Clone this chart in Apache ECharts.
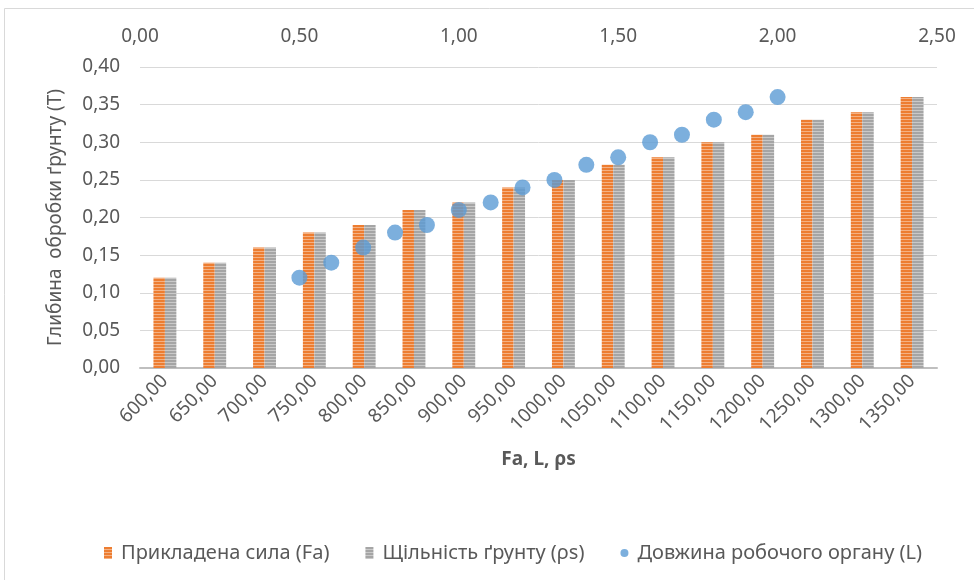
<!DOCTYPE html>
<html>
<head>
<meta charset="utf-8">
<script src="https://cdn.jsdelivr.net/npm/echarts@6/dist/echarts.min.js"></script>
<style>
  html, body { margin: 0; padding: 0; background: #fff; }
  #chart { width: 974px; height: 580px; }
</style>
</head>
<body>
<div id="chart"></div>
<script>
// categories on the bottom axis
var categories = ['600,00','650,00','700,00','750,00','800,00','850,00','900,00','950,00',
                  '1000,00','1050,00','1100,00','1150,00','1200,00','1250,00','1300,00','1350,00'];
// bar series values
var forceValues   = [0.12,0.14,0.16,0.18,0.19,0.21,0.22,0.24,0.25,0.27,0.28,0.30,0.31,0.33,0.34,0.36];
var densityValues = [0.12,0.14,0.16,0.18,0.19,0.21,0.22,0.24,0.25,0.27,0.28,0.30,0.31,0.33,0.34,0.36];
// scatter: length L (top axis) vs depth
var lengthX = [0.5,0.6,0.7,0.8,0.9,1.0,1.1,1.2,1.3,1.4,1.5,1.6,1.7,1.8,1.9,2.0];
var lengthY = [0.12,0.14,0.16,0.18,0.19,0.21,0.22,0.24,0.25,0.27,0.28,0.30,0.31,0.33,0.34,0.36];

var seriesNames = ['Прикладена сила (Fa)', 'Щільність ґрунту (ρs)', 'Довжина робочого органу (L)'];

function comma(v) { return v.toFixed(2).replace('.', ','); }

// striped fill like the Excel pattern
function stripes(base, light) {
    var c = document.createElement('canvas');
    c.width = 4; c.height = 3;
    var ctx = c.getContext('2d');
    ctx.fillStyle = base; ctx.fillRect(0, 0, 4, 3);
    ctx.fillStyle = light; ctx.fillRect(0, 2, 4, 1);
    return { image: c, repeat: 'repeat' };
}

var font = "'Noto Sans', 'Open Sans', sans-serif";
var fs = 19;
var txt = '#595959';
var chart = echarts.init(document.getElementById('chart'));

var option = {
    animation: false,
    textStyle: { fontFamily: font },
    graphic: [{
        type: 'rect', shape: { x: 4.5, y: 8.5, width: 1000, height: 1000 },
        style: { fill: 'none', stroke: '#d9d9d9', lineWidth: 1 }, silent: true
    }],
    grid: { left: 140, right: 37, top: 67, bottom: 212 },
    legend: {
        top: 538, left: 99,
        itemWidth: 8, itemHeight: 12, itemGap: 36,
        textStyle: { color: txt, fontSize: 20, fontFamily: font, padding: [0, 0, 0, 4] },
        data: [
            { name: seriesNames[0], icon: 'rect' },
            { name: seriesNames[1], icon: 'rect' },
            { name: seriesNames[2], icon: 'circle' }
        ]
    },
    xAxis: [{
        type: 'category',
        data: categories,
        position: 'bottom',
        name: 'Fa, L, ρs',
        nameLocation: 'middle',
        nameGap: 82,
        nameTextStyle: { color: txt, fontSize: fs, fontWeight: 'bold', fontFamily: font },
        axisLine: { lineStyle: { color: '#bfbfbf', width: 2 } },
        axisTick: { show: false },
        axisLabel: { rotate: 45, color: txt, fontSize: fs, margin: 10, interval: 0 }
    }, {
        type: 'value',
        position: 'top',
        min: 0, max: 2.5, interval: 0.5,
        axisLine: { show: false },
        axisTick: { show: false },
        splitLine: { show: false },
        axisLabel: { color: txt, fontSize: fs, margin: 21, formatter: comma }
    }],
    yAxis: {
        type: 'value',
        min: 0, max: 0.4, interval: 0.05,
        name: 'Глибина  обробки ґрунту (T)',
        nameLocation: 'middle',
        nameGap: 75,
        nameTextStyle: { color: txt, fontSize: fs, fontFamily: font },
        axisLine: { show: false },
        axisTick: { show: false },
        splitLine: { lineStyle: { color: '#d9d9d9', width: 1 } },
        axisLabel: { color: txt, fontSize: fs, margin: 20, formatter: comma }
    },
    series: [{
        name: seriesNames[0],
        type: 'bar',
        xAxisIndex: 0,
        data: forceValues,
        barGap: '0%',
        barCategoryGap: '54%',
        itemStyle: { color: stripes('#ED7D31', '#F4B183') }
    }, {
        name: seriesNames[1],
        type: 'bar',
        xAxisIndex: 0,
        data: densityValues,
        itemStyle: { color: stripes('#A5A5A5', '#C9C9C9') }
    }, {
        name: seriesNames[2],
        type: 'scatter',
        xAxisIndex: 1,
        symbolSize: 16,
        data: lengthX.map(function (x, i) { return [x, lengthY[i]]; }),
        itemStyle: { color: '#5B9BD5' }
    }]
};

chart.setOption(option);
</script>
</body>
</html>
